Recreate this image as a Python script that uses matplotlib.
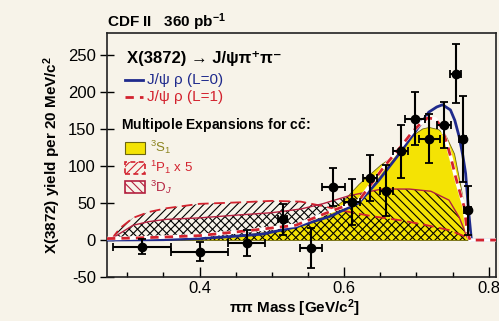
import matplotlib
matplotlib.use("Agg")
import matplotlib.pyplot as plt
from matplotlib.patches import Rectangle
from matplotlib.ticker import MultipleLocator

plt.rcParams['font.family'] = ['Liberation Sans', 'DejaVu Sans']
plt.rcParams['mathtext.fontset'] = 'custom'
plt.rcParams['mathtext.rm'] = 'Liberation Sans'
plt.rcParams['mathtext.it'] = 'Liberation Sans:italic'
plt.rcParams['mathtext.bf'] = 'Liberation Sans:bold'
plt.rcParams['hatch.linewidth'] = 0.8
plt.rcParams['axes.unicode_minus'] = False

# measured dipion mass spectrum
mass = [0.320, 0.400, 0.465, 0.515, 0.554, 0.585, 0.611, 0.636, 0.658,
        0.678, 0.698, 0.718, 0.738, 0.754, 0.764, 0.771]
yld = [-9, -16, -4, 28, -11, 72, 52, 84, 67, 120, 164, 137, 156, 225, 137, 40]
yld_err = [10, 13, 17, 21, 27, 26, 31, 31, 35, 36, 36, 33, 31, 40, 58, 33]
mass_err = [0.04, 0.04, 0.025, 0.006, 0.015, 0.016, 0.011, 0.01, 0.009,
            0.01, 0.014, 0.014, 0.01, 0.008, 0.005, 0.005]

# J/psi rho, L=0
l0_x = [0.272, 0.35, 0.40, 0.44, 0.487, 0.533, 0.579, 0.62, 0.648, 0.678,
        0.703, 0.717, 0.728, 0.736, 0.747, 0.753, 0.759, 0.764, 0.768,
        0.772, 0.776, 0.81]
l0_y = [0, 0.5, 2, 4.5, 8, 17.6, 31.5, 50, 81, 119, 153, 173, 180, 183,
        176, 162, 140, 115, 90, 40, 0, 0]

# J/psi rho, L=1
l1_x = [0.272, 0.30, 0.35, 0.40, 0.44, 0.47, 0.533, 0.579, 0.62, 0.655,
        0.678, 0.694, 0.705, 0.715, 0.726, 0.735, 0.742, 0.748, 0.754,
        0.760, 0.766, 0.770, 0.774, 0.81]
l1_y = [2, 2.5, 4, 6, 10, 13, 20, 38, 53, 99, 126, 146, 157, 165, 164, 152,
        131, 110, 86, 65, 45, 13, 0, 0]

# multipole expansions
s1_x = [0.285, 0.35, 0.40, 0.45, 0.50, 0.55, 0.58, 0.60, 0.62, 0.65, 0.662,
        0.676, 0.687, 0.699, 0.708, 0.717, 0.73, 0.74, 0.752, 0.761, 0.769,
        0.775]
s1_y = [0, 1, 3, 6, 12, 25, 40, 55, 76, 102, 110, 124, 135, 145, 151, 153,
        150, 142, 117, 72, 27, 0]

p1_x = [0.279, 0.282, 0.29, 0.308, 0.33, 0.354, 0.40, 0.455, 0.50, 0.54,
        0.57, 0.607, 0.64, 0.676, 0.71, 0.745, 0.768, 0.775]
p1_y = [0, 6, 16, 30, 38, 43, 49, 51, 53, 52, 46, 38, 32, 27, 21, 13.5,
        4.5, 0]

dj_x = [0.279, 0.282, 0.29, 0.308, 0.33, 0.354, 0.40, 0.455, 0.50, 0.54,
        0.57, 0.607, 0.652, 0.69, 0.72, 0.745, 0.759, 0.77, 0.774]
dj_y = [0, 4, 9, 20, 25, 28, 30, 34, 37, 42, 49, 60, 69, 69, 66, 54, 31,
        4, 0]

bg = '#f7f3e9'
navy = '#1f2a8c'
red = '#d3222e'
crimson = '#b3203f'
yellow = '#f4e304'

fig = plt.figure(figsize=(4.99, 3.21), dpi=100, facecolor=bg)
ax = fig.add_axes([0.2144, 0.137, 0.7796, 0.760], facecolor=bg)

ax.fill_between(s1_x, 0, s1_y, facecolor=yellow, edgecolor='#6b6510',
                linewidth=0.6, zorder=1)
ax.fill_between(p1_x, 0, p1_y, facecolor='none', edgecolor='black',
                hatch='////', linewidth=0, zorder=2)
ax.fill_between(dj_x, 0, dj_y, facecolor='none', edgecolor='black',
                hatch='\\\\\\\\', linewidth=0, zorder=2)
ax.plot(p1_x, p1_y, color=red, lw=1.3, dashes=(6, 3), zorder=3)
ax.plot(dj_x, dj_y, color=crimson, lw=1.0, zorder=3)

ax.plot(l0_x, l0_y, color=navy, lw=2.0, zorder=4)
ax.plot(l1_x, l1_y, color='white', lw=2.6, zorder=4)
ax.plot(l1_x, l1_y, color=red, lw=2.0, dashes=(3, 2.2), zorder=5)

ax.errorbar(mass, yld, yerr=yld_err, xerr=mass_err, fmt='o', color='black',
            ms=6, elinewidth=1.5, capsize=3, capthick=1.3, zorder=6)

ax.set_xlim(0.272, 0.81)
ax.set_ylim(-50, 280)
ax.set_xticks([0.4, 0.6, 0.8])
ax.set_xticklabels(['0.4', '0.6', '0.8'])
ax.xaxis.set_minor_locator(MultipleLocator(0.05))
ax.set_yticks([-50, 0, 50, 100, 150, 200, 250])
ax.tick_params(axis='x', which='major', direction='in', length=7, width=1,
               labelsize=12, pad=3, top=False)
ax.tick_params(axis='x', which='minor', direction='in', length=3.5, width=1,
               top=False)
ax.tick_params(axis='y', which='major', direction='inout', length=10,
               width=1, labelsize=12, pad=3, right=False)
for sp in ax.spines.values():
    sp.set_linewidth(1.2)
    sp.set_color('#222222')

ax.set_xlabel(r'$\mathbf{\pi\pi}$ Mass [GeV/c$^{\mathbf{2}}$]',
              fontsize=11, fontweight='bold')
ax.xaxis.set_label_coords(0.483, -0.083)
fig.text(52 / 499, 1 - 155 / 321, r'X(3872) yield per 20 MeV/c$^{\mathbf{2}}$',
         rotation=90, ha='center', va='center', fontsize=11,
         fontweight='bold')
fig.text(107 / 499, 1 - 22 / 321, r'CDF II   360 pb$^{\mathbf{-1}}$',
         ha='left', va='center', fontsize=11, fontweight='bold')

# legend block
ax.text(0.299, 246, 'X(3872) → J/ψπ⁺π⁻', fontsize=12, fontweight='bold',
        va='center', ha='left', zorder=7)
ax.plot([0.2966, 0.3214], [216, 216], color=navy, lw=2, zorder=7)
ax.text(0.327, 216, 'J/ψ ρ (L=0)', color=navy, fontsize=11, va='center',
        zorder=7)
ax.plot([0.2966, 0.3214], [193, 193], color=red, lw=2, dashes=(3, 2.2),
        zorder=7)
ax.text(0.327, 193, 'J/ψ ρ (L=1)', color=red, fontsize=11, va='center',
        zorder=7)
ax.text(0.292, 154, r'Multipole Expansions for c$\mathbf{\bar{c}}$:',
        fontsize=10, fontweight='bold', va='center', zorder=7)

ax.add_patch(Rectangle((0.2966, 116), 0.0275, 17, facecolor=yellow,
                       edgecolor='#6b6510', lw=0.8, zorder=7))
ax.text(0.331, 125, r'$^{3}$S$_{1}$', color='#8c8420', fontsize=9.5,
        va='center', zorder=7)
ax.add_patch(Rectangle((0.2966, 90), 0.0275, 16, facecolor='none',
                       edgecolor=red, lw=1.2, linestyle=(0, (3, 2)),
                       hatch='////', zorder=7))
ax.text(0.331, 98.5, r'$^{1}$P$_{1}$ x 5', color=red, fontsize=9.5,
        va='center', zorder=7)
ax.add_patch(Rectangle((0.2966, 64), 0.0275, 16, facecolor='none',
                       edgecolor=crimson, lw=1.2, hatch='\\\\\\\\', zorder=7))
ax.text(0.331, 71, r'$^{3}$D$_{J}$', color=crimson, fontsize=9.5,
        va='center', zorder=7)

fig.savefig('out.png', dpi=100, facecolor=bg)
